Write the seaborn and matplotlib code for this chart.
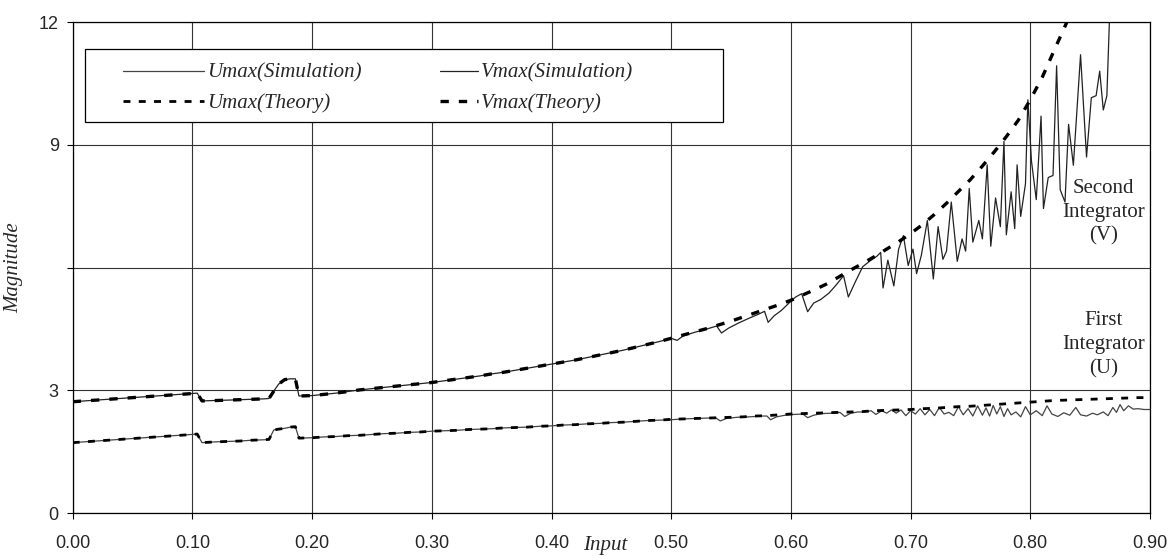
import numpy as np
import matplotlib
matplotlib.use("Agg")
import matplotlib.pyplot as plt
from matplotlib.patches import Rectangle
import seaborn as sns

# ---------------- data ----------------
x_theory = [0.00, 0.01, 0.02, 0.03, 0.04, 0.05, 0.06, 0.07, 0.08, 0.09, 0.10, 0.104, 0.108,
            0.12, 0.13, 0.14, 0.15, 0.16, 0.164, 0.168, 0.172, 0.177, 0.182, 0.186, 0.189,
            0.20, 0.21, 0.22, 0.23, 0.24, 0.25, 0.26, 0.27, 0.28, 0.29, 0.30,
            0.31, 0.32, 0.33, 0.34, 0.35, 0.36, 0.37, 0.38, 0.39, 0.40,
            0.41, 0.42, 0.43, 0.44, 0.45, 0.46, 0.47, 0.48, 0.49, 0.50,
            0.51, 0.52, 0.53, 0.54, 0.55, 0.56, 0.57, 0.58, 0.59, 0.60,
            0.61, 0.62, 0.63, 0.64, 0.65, 0.66, 0.67, 0.68, 0.69, 0.70,
            0.71, 0.72, 0.73, 0.74, 0.75, 0.76, 0.77, 0.78, 0.79, 0.80,
            0.81, 0.82, 0.83, 0.84, 0.85, 0.86, 0.87, 0.88, 0.89, 0.90]

v_theory = [2.72, 2.74, 2.76, 2.78, 2.80, 2.82, 2.84, 2.86, 2.88, 2.90, 2.92, 2.93, 2.74,
            2.75, 2.76, 2.77, 2.78, 2.79, 2.80, 2.98, 3.15, 3.26, 3.28, 3.28, 2.86,
            2.87, 2.90, 2.93, 2.97, 3.01, 3.04, 3.07, 3.10, 3.13, 3.16, 3.19,
            3.23, 3.27, 3.31, 3.35, 3.40, 3.44, 3.49, 3.54, 3.59, 3.64,
            3.69, 3.74, 3.80, 3.86, 3.92, 3.98, 4.05, 4.12, 4.19, 4.27,
            4.35, 4.43, 4.51, 4.60, 4.69, 4.79, 4.89, 4.99, 5.09, 5.20,
            5.33, 5.46, 5.60, 5.77, 5.94, 6.10, 6.27, 6.45, 6.63, 6.83,
            7.05, 7.30, 7.57, 7.86, 8.15, 8.48, 8.83, 9.20, 9.60, 10.10,
            10.65, 11.31, 11.96, 12.70, 13.50, 14.30, 15.20, 16.10, 17.00, 18.00]

u_theory = [1.72, 1.74, 1.76, 1.78, 1.80, 1.82, 1.84, 1.86, 1.88, 1.90, 1.92, 1.93, 1.72,
            1.74, 1.75, 1.76, 1.78, 1.79, 1.80, 2.03, 2.05, 2.07, 2.10, 2.11, 1.83,
            1.84, 1.86, 1.87, 1.89, 1.90, 1.92, 1.94, 1.95, 1.97, 1.98, 2.00,
            2.01, 2.02, 2.04, 2.05, 2.06, 2.08, 2.09, 2.10, 2.12, 2.13,
            2.15, 2.16, 2.18, 2.19, 2.21, 2.22, 2.24, 2.26, 2.27, 2.29,
            2.30, 2.31, 2.32, 2.33, 2.34, 2.35, 2.37, 2.38, 2.40, 2.42,
            2.43, 2.44, 2.45, 2.46, 2.47, 2.48, 2.50, 2.51, 2.52, 2.53,
            2.55, 2.56, 2.58, 2.60, 2.61, 2.63, 2.65, 2.67, 2.69, 2.71,
            2.73, 2.75, 2.76, 2.77, 2.78, 2.79, 2.80, 2.81, 2.82, 2.82]

# simulation (noisy part from 0.50; below that it coincides with theory)
x_v_sim_hi = [0.500, 0.505, 0.510, 0.520, 0.530, 0.538, 0.542, 0.548, 0.556, 0.565, 0.573, 0.578,
              0.581, 0.586, 0.592, 0.598, 0.604, 0.609, 0.614, 0.619, 0.625, 0.632, 0.638, 0.644,
              0.648, 0.654, 0.660, 0.666, 0.672, 0.675, 0.677, 0.681, 0.686, 0.690, 0.694, 0.698,
              0.702, 0.705, 0.709, 0.714, 0.719, 0.723, 0.727, 0.730, 0.734, 0.739, 0.743, 0.746,
              0.749, 0.752, 0.757, 0.760, 0.764, 0.767, 0.771, 0.775, 0.778, 0.780, 0.784, 0.787,
              0.789, 0.792, 0.796, 0.798, 0.801, 0.805, 0.809, 0.811, 0.815, 0.819, 0.822, 0.825,
              0.829, 0.832, 0.836, 0.842, 0.847, 0.851, 0.855, 0.858, 0.861, 0.864, 0.867, 0.872,
              0.874, 0.877, 0.881, 0.884, 0.900]
v_sim_hi = [4.27, 4.22, 4.33, 4.42, 4.50, 4.57, 4.40, 4.52, 4.64, 4.76, 4.86, 4.93,
            4.66, 4.82, 4.95, 5.12, 5.28, 5.36, 4.92, 5.13, 5.22, 5.38, 5.58, 5.80,
            5.28, 5.66, 6.02, 6.16, 6.28, 6.37, 5.50, 6.18, 5.55, 6.45, 6.78, 6.05,
            6.45, 5.85, 6.30, 7.15, 5.72, 7.00, 6.20, 6.40, 7.60, 6.15, 6.70, 6.40,
            7.93, 6.62, 7.15, 6.70, 8.51, 6.52, 7.70, 7.00, 9.08, 6.80, 7.85, 6.95,
            8.51, 7.25, 8.05, 10.10, 8.60, 7.66, 9.70, 7.44, 8.20, 8.25, 10.93, 7.90,
            7.60, 9.50, 8.50, 11.20, 8.70, 10.15, 10.20, 10.80, 9.85, 10.20, 12.80, 13.00,
            12.00, 13.00, 12.00, 13.00, 13.50]

x_u_sim_hi = [0.500, 0.510, 0.520, 0.530, 0.537, 0.541, 0.546, 0.555, 0.565, 0.575, 0.580, 0.583,
              0.588, 0.595, 0.603, 0.610, 0.614, 0.619, 0.626, 0.634, 0.641, 0.645, 0.650, 0.656,
              0.662, 0.667, 0.671, 0.676, 0.680, 0.684, 0.688, 0.692, 0.696, 0.700, 0.704, 0.708,
              0.712, 0.716, 0.720, 0.724, 0.728, 0.732, 0.736, 0.740, 0.744, 0.748, 0.752, 0.756,
              0.760, 0.763, 0.766, 0.769, 0.772, 0.775, 0.778, 0.781, 0.784, 0.788, 0.792, 0.796,
              0.800, 0.805, 0.810, 0.814, 0.818, 0.823, 0.828, 0.833, 0.838, 0.842, 0.847, 0.852,
              0.856, 0.861, 0.865, 0.869, 0.872, 0.875, 0.878, 0.882, 0.886, 0.890, 0.895, 0.900]
u_sim_hi = [2.28, 2.30, 2.31, 2.32, 2.33, 2.25, 2.31, 2.34, 2.35, 2.37, 2.37, 2.28,
            2.35, 2.39, 2.41, 2.42, 2.33, 2.39, 2.43, 2.44, 2.46, 2.36, 2.44, 2.47,
            2.47, 2.50, 2.41, 2.50, 2.44, 2.52, 2.44, 2.52, 2.38, 2.50, 2.42, 2.55,
            2.40, 2.53, 2.38, 2.58, 2.42, 2.46, 2.38, 2.60, 2.40, 2.55, 2.37, 2.62,
            2.39, 2.57, 2.37, 2.63, 2.42, 2.60, 2.36, 2.55, 2.40, 2.47, 2.35, 2.60,
            2.40, 2.50, 2.38, 2.62, 2.42, 2.36, 2.45, 2.39, 2.58, 2.40, 2.37, 2.44,
            2.40, 2.47, 2.38, 2.58, 2.46, 2.65, 2.50, 2.62, 2.54, 2.55, 2.53, 2.53]

x_ticks = [0.0, 0.1, 0.2, 0.3, 0.4, 0.5, 0.6, 0.7, 0.8, 0.9]
x_tick_labels = ["0.00", "0.10", "0.20", "0.30", "0.40", "0.50", "0.60", "0.70", "0.80", "0.90"]
y_ticks = [0, 3, 6, 9, 12]
y_tick_labels = ["0", "3", "", "9", "12"]

# combine simulation: coincides with theory below 0.50
n_lo = x_theory.index(0.50)
x_v_sim = x_theory[:n_lo] + x_v_sim_hi
v_sim = v_theory[:n_lo] + v_sim_hi
x_u_sim = x_theory[:n_lo] + x_u_sim_hi
u_sim = u_theory[:n_lo] + u_sim_hi

# ---------------- plot ----------------
sns.set_style("white")
plt.rcParams["font.family"] = ["Liberation Sans", "DejaVu Sans"]

fig = plt.figure(figsize=(11.75, 5.56), dpi=100)
ax = fig.add_axes([0.0619, 0.0773, 0.9168, 0.8831])

serif = ["Liberation Serif", "DejaVu Serif"]

sns.lineplot(x=x_u_sim, y=u_sim, ax=ax, color="#444444", lw=0.9, sort=False,
             estimator=None, label="Umax(Simulation)")
sns.lineplot(x=x_theory, y=u_theory, ax=ax, color="black", lw=2.0, sort=False,
             estimator=None, linestyle=(0, (2.5, 3.0)), label="Umax(Theory)")
sns.lineplot(x=x_v_sim, y=v_sim, ax=ax, color="#222222", lw=0.9, sort=False,
             estimator=None, label="Vmax(Simulation)")
sns.lineplot(x=x_theory, y=v_theory, ax=ax, color="black", lw=2.4, sort=False,
             estimator=None, linestyle=(0, (2.5, 3.0)), label="Vmax(Theory)")

ax.set_xlim(0, 0.9)
ax.set_ylim(0, 12)
ax.set_xticks(x_ticks)
ax.set_xticklabels(x_tick_labels)
ax.set_yticks(y_ticks)
ax.set_yticklabels(y_tick_labels)
ax.tick_params(axis="both", which="both", direction="out", length=4, width=0.8,
               color="black", labelsize=13, left=True, bottom=True)
ax.tick_params(axis="x", pad=12)
ax.tick_params(axis="y", pad=6)

ax.grid(True, color="#333333", lw=0.8)
for s in ax.spines.values():
    s.set_visible(True)
    s.set_color("black")
    s.set_linewidth(0.9)

ax.set_xlabel("")
ax.set_ylabel("Magnitude", family=serif, style="italic", fontsize=15)
ax.yaxis.set_label_coords(-0.046, 0.5)
ax.text(0.445, -0.067, "Input", transform=ax.get_xaxis_transform(), ha="center", va="center",
        family=serif, style="italic", fontsize=15)

ax.text(0.861, 7.35, "Second\nIntegrator\n(V)", ha="center", va="center", family=serif,
        fontsize=15, linespacing=1.35)
ax.text(0.861, 4.12, "First\nIntegrator\n(U)", ha="center", va="center", family=serif,
        fontsize=15, linespacing=1.35)

# legend: framed box with two columns (different handle lengths)
h, l = ax.get_legend_handles_labels()
box = Rectangle((0.0114, 0.7963), 0.5922, 0.1487, transform=ax.transAxes,
                facecolor="white", edgecolor="black", lw=0.9, zorder=5)
ax.add_patch(box)
lprop = {"family": serif, "style": "italic", "size": 15}
leg1 = ax.legend([h[0], h[1]], [l[0], l[1]], loc="upper left", bbox_to_anchor=(0.0467, 0.916),
                 frameon=False, handlelength=3.9, handletextpad=0.15, borderpad=0,
                 borderaxespad=0, labelspacing=0.5, prop=lprop)
leg1.set_zorder(6)
ax.add_artist(leg1)
leg2 = ax.legend([h[2], h[3]], [l[2], l[3]], loc="upper left", bbox_to_anchor=(0.341, 0.916),
                 frameon=False, handlelength=1.8, handletextpad=0.15, borderpad=0,
                 borderaxespad=0, labelspacing=0.5, prop=lprop)
leg2.set_zorder(6)

fig.savefig("out.png", dpi=100)
